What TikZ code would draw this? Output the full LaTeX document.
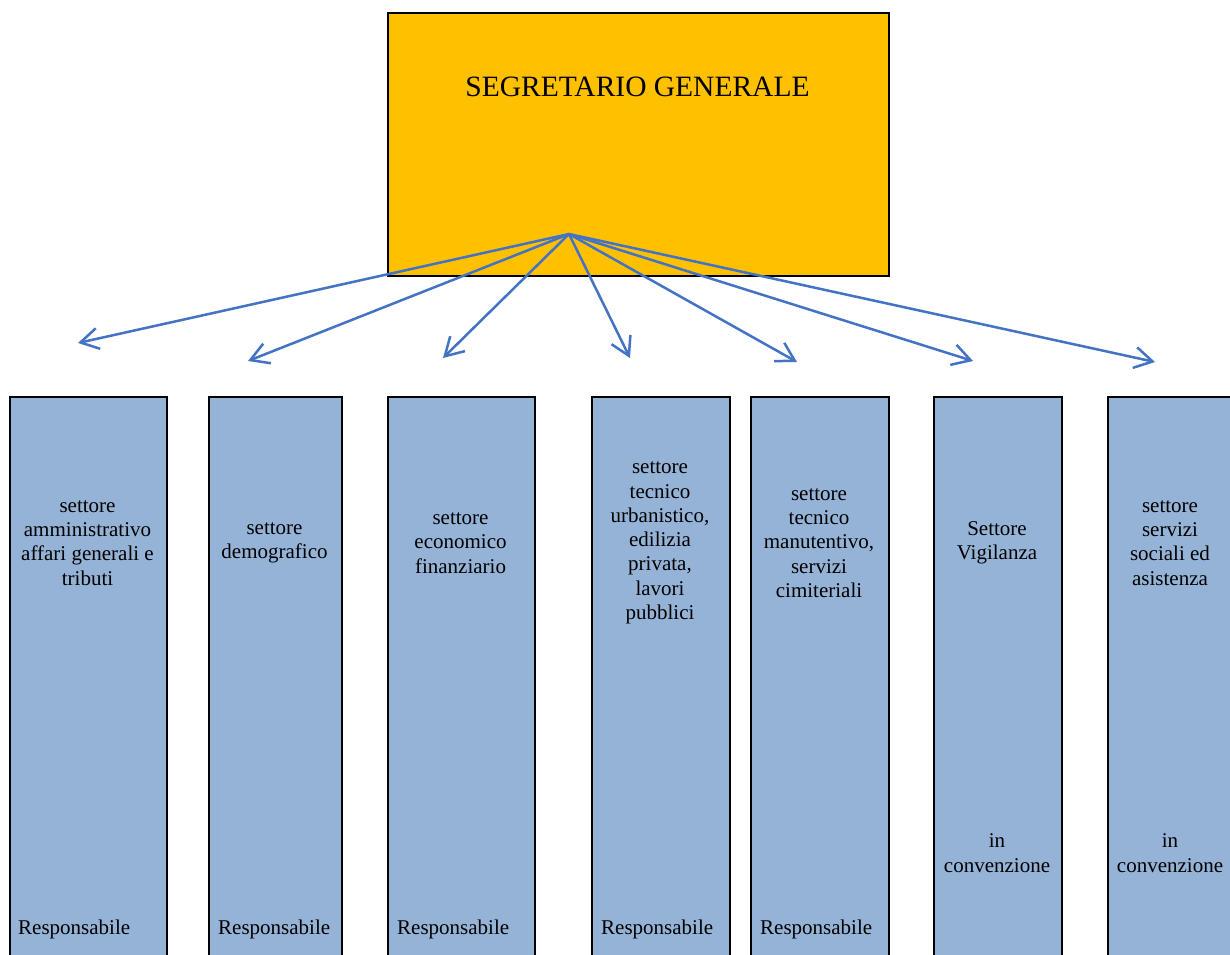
\documentclass[tikz,border=0pt]{standalone}
\usepackage{fontspec}
\setmainfont{Liberation Serif}
\usetikzlibrary{arrows.meta}
\definecolor{gold}{HTML}{FFC000}
\definecolor{boxblue}{HTML}{95B3D7}
\definecolor{arrowblue}{HTML}{4472C4}
\begin{document}
\begin{tikzpicture}[x=1pt,y=-1pt,
  head/.style={draw=black,line width=2pt,fill=gold,anchor=north west,inner sep=0pt},
  sector/.style={draw=black,line width=2pt,fill=boxblue,anchor=north west,inner sep=0pt,minimum height=580pt},
  lbl/.style={font=\fontsize{21}{24.3}\selectfont,align=center,inner sep=0pt},
  resp/.style={font=\fontsize{21}{24.3}\selectfont,anchor=west,inner sep=0pt},
  conn/.style={draw=arrowblue,line width=2.5pt,-{Straight Barb[length=18pt,width=21pt,line width=2.5pt]}}]
\clip (0,0) rectangle (1230,954);
\fill[white] (0,0) rectangle (1230,954);
% top box
\node[head,minimum width=501pt,minimum height=263pt] (sg) at (387,12) {};
\node[font=\fontsize{29.5}{34}\selectfont,inner sep=0pt] (sgt) at (637.5,87) {SEGRETARIO GENERALE};
% sector boxes
\node[sector,minimum width=157pt] (b1) at (9,396) {};
\node[sector,minimum width=133pt] (b2) at (208,396) {};
\node[sector,minimum width=147pt] (b3) at (387,396) {};
\node[sector,minimum width=138pt] (b4) at (591,396) {};
\node[sector,minimum width=138pt] (b5) at (750,396) {};
\node[sector,minimum width=128pt] (b6) at (933,396) {};
\node[sector,minimum width=180pt] (b7) at (1107,396) {};
% labels
\node[lbl] (l1) at (87.5,543) {settore\\amministrativo\\affari generali e\\tributi};
\node[lbl] (l2) at (274.5,543) {settore\\demografico};
\node[lbl] (l3) at (460.5,543) {settore\\economico\\finanziario};
\node[lbl] (l4) at (660,543) {settore\\tecnico\\urbanistico,\\edilizia\\privata,\\lavori\\pubblici};
\node[lbl] (l5) at (819,543) {settore\\tecnico\\manutentivo,\\servizi\\cimiteriali};
\node[lbl] (l6) at (997,543) {Settore\\Vigilanza};
\node[lbl] (l7) at (1170,543) {settore\\servizi\\sociali ed\\asistenza};
\node[lbl] (c6) at (997,853) {in\\convenzione};
\node[lbl] (c7) at (1170,853) {in\\convenzione};
\node[resp] (r1) at (18,929) {Responsabile};
\node[resp] (r2) at (218,929) {Responsabile};
\node[resp] (r3) at (397,929) {Responsabile};
\node[resp] (r4) at (601,929) {Responsabile};
\node[resp] (r5) at (760,929) {Responsabile};
% connectors
\coordinate (o) at (569,234);
\coordinate (t1) at (78,343);
\coordinate (t2) at (248,361);
\coordinate (t3) at (443,358);
\coordinate (t4) at (630,358);
\coordinate (t5) at (797,362);
\coordinate (t6) at (973,361);
\coordinate (t7) at (1155,362);
\foreach \t in {t1,t2,t3,t4,t5,t6,t7} \draw[conn] (o) -- (\t);
\end{tikzpicture}
\end{document}
